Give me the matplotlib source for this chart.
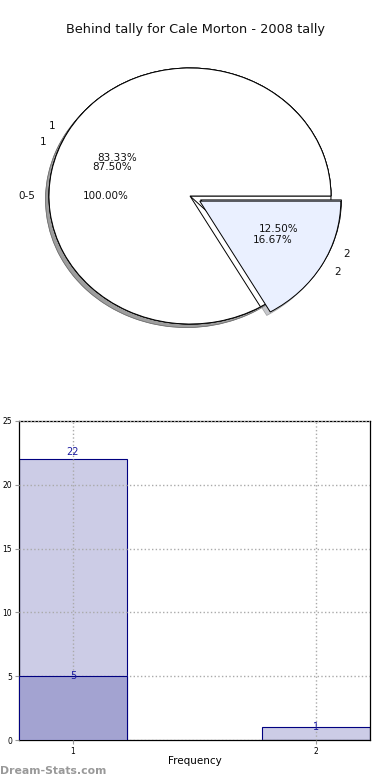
import matplotlib
matplotlib.use("Agg")
import matplotlib.pyplot as plt

# ---- data ----
title = "Behind tally for Cale Morton - 2008 tally"
pie1_labels = ["0-5"]
pie1_values = [1]
pie2_labels = ["1", "2"]
pie2_values = [7, 1]          # 87.50% / 12.50%
pie3_labels = ["1", "2"]
pie3_values = [5, 1]          # 83.33% / 16.67%

bar_freq = [1, 2]
bar_light = [22, 1]
bar_dark_freq = [1]
bar_dark = [5]
bar_xlabel = "Frequency"
bar_ylabel = "Distinct Tallies"

slice_colors = ["#ffffff", "#eaf0ff"]

fig = plt.figure(figsize=(3.9, 7.8), dpi=100)

# ---- pie ----
axp = fig.add_axes([13.75 / 390, 1 - 356 / 780, 352.5 / 390, 320 / 780])
wp = dict(edgecolor="black", linewidth=0.7)
for vals, labs in [(pie1_values, pie1_labels), (pie2_values, pie2_labels), (pie3_values, pie3_labels)]:
    explode = [0.0] + [0.08] * (len(vals) - 1)
    axp.pie(vals, labels=labs, colors=slice_colors[:len(vals)], explode=explode,
            autopct="%1.2f%%", startangle=0, labeldistance=1.1,
            shadow=dict(ox=-0.018, oy=-0.02, shade=0.45, alpha=0.45, edgecolor="#555555", linewidth=0.5),
            pctdistance=0.6, wedgeprops=wp, textprops=dict(fontsize=7.5, color="#111111"))
axp.set_aspect("auto")
axp.set_xlim(-1.25, 1.25)
axp.set_ylim(-1.25, 1.25)
axp.axis("off")

fig.text(0.5, 1 - 30 / 780, title, ha="center", va="center", fontsize=9.3, color="#111111")

# ---- bar ----
axb = fig.add_axes([19 / 390, 1 - 740 / 780, 351 / 390, 319 / 780])
w = 0.444
axb.bar(bar_freq, bar_light, width=w, color="#ccccE6", edgecolor="#000080", linewidth=0.8, zorder=2)
axb.bar(bar_dark_freq, bar_dark, width=w, color="#a3a3d1", edgecolor="#000080", linewidth=0.8, zorder=3)
for x, v in zip(bar_freq, bar_light):
    axb.text(x, v * 1.025, str(v), ha="center", va="center", fontsize=7, color="#1a1aa0", zorder=5)
for x, v in zip(bar_dark_freq, bar_dark):
    axb.text(x, v * 1.005, str(v), ha="center", va="center", fontsize=7, color="#1a1aa0", zorder=5)

axb.set_xlim(1 - 0.222, 2 + 0.222)
axb.set_ylim(0, 25)
axb.set_xticks(bar_freq)
axb.set_yticks([0, 5, 10, 15, 20, 25])
axb.tick_params(labelsize=5.5, length=3, color="#999999", pad=2)
axb.grid(True, linestyle=":", color="#aaaaaa", linewidth=1.0, zorder=4)
axb.set_axisbelow(False)
for s in axb.spines.values():
    s.set_linewidth(0.9)
axb.set_xlabel(bar_xlabel, fontsize=7.5, labelpad=0)
axb.set_ylabel(bar_ylabel, fontsize=7, labelpad=6)

fig.text(0.0, 1 - 771 / 780, "Dream-Stats.com", ha="left", va="center", fontsize=7.8,
         color="#999999", fontweight="semibold")

fig.savefig("out.png", dpi=100)
